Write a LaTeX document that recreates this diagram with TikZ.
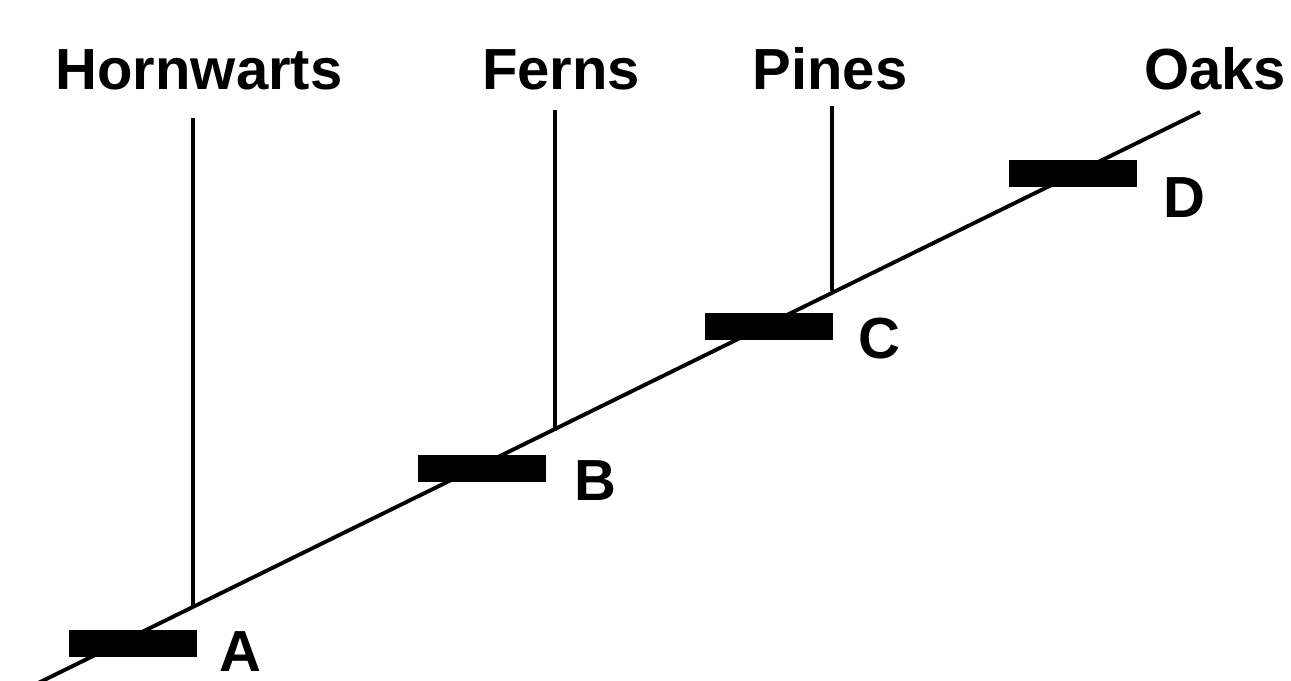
\documentclass[tikz,border=0pt]{standalone}
\usepackage{fontspec}
\setmainfont{Liberation Sans}
\usepackage{tikz}
\usetikzlibrary{positioning}

\begin{document}
\begin{tikzpicture}[x=0.2mm, y=-0.2mm,
  taxon/.style={font=\fontsize{33}{36}\selectfont\bfseries, inner sep=0pt, anchor=base},
  trait/.style={font=\fontsize{33}{36}\selectfont\bfseries, inner sep=0pt, anchor=base},
  bar/.style={fill=black, inner sep=0pt, minimum width=128*0.2mm, minimum height=27*0.2mm},
  branch/.style={line width=2.2pt, line cap=butt}]
  \useasboundingbox (0,0) rectangle (1291,681);
  % taxa along the top
  \node[taxon] (horn) at (199,90) {Hornwarts};
  \node[taxon] (fern) at (561,90) {Ferns};
  \node[taxon] (pine) at (830,90) {Pines};
  \node[taxon] (oak) at (1215,90) {Oaks};
  % tree
  \coordinate (root) at (28,688);
  \coordinate (tip) at (1200,112);
  \coordinate (hJoin) at (193,607);
  \coordinate (fJoin) at (555,431);
  \coordinate (pJoin) at (832,291);
  \coordinate (hTop) at (193,118);
  \coordinate (fTop) at (555,110);
  \coordinate (pTop) at (832,106);
  % traits
  \node[bar] (barA) at (133,643) {};
  \node[bar] (barB) at (482,468) {};
  \node[bar] (barC) at (769,326) {};
  \node[bar] (barD) at (1073,174) {};
  \node[trait] (labA) at (240,671) {A};
  \node[trait] (labB) at (595,500) {B};
  \node[trait] (labC) at (879,358) {C};
  \node[trait] (labD) at (1184,218) {D};
  \draw[branch] (root) -- (tip);
  \draw[branch] (hTop) -- (hJoin);
  \draw[branch] (fTop) -- (fJoin);
  \draw[branch] (pTop) -- (pJoin);
\end{tikzpicture}
\end{document}
